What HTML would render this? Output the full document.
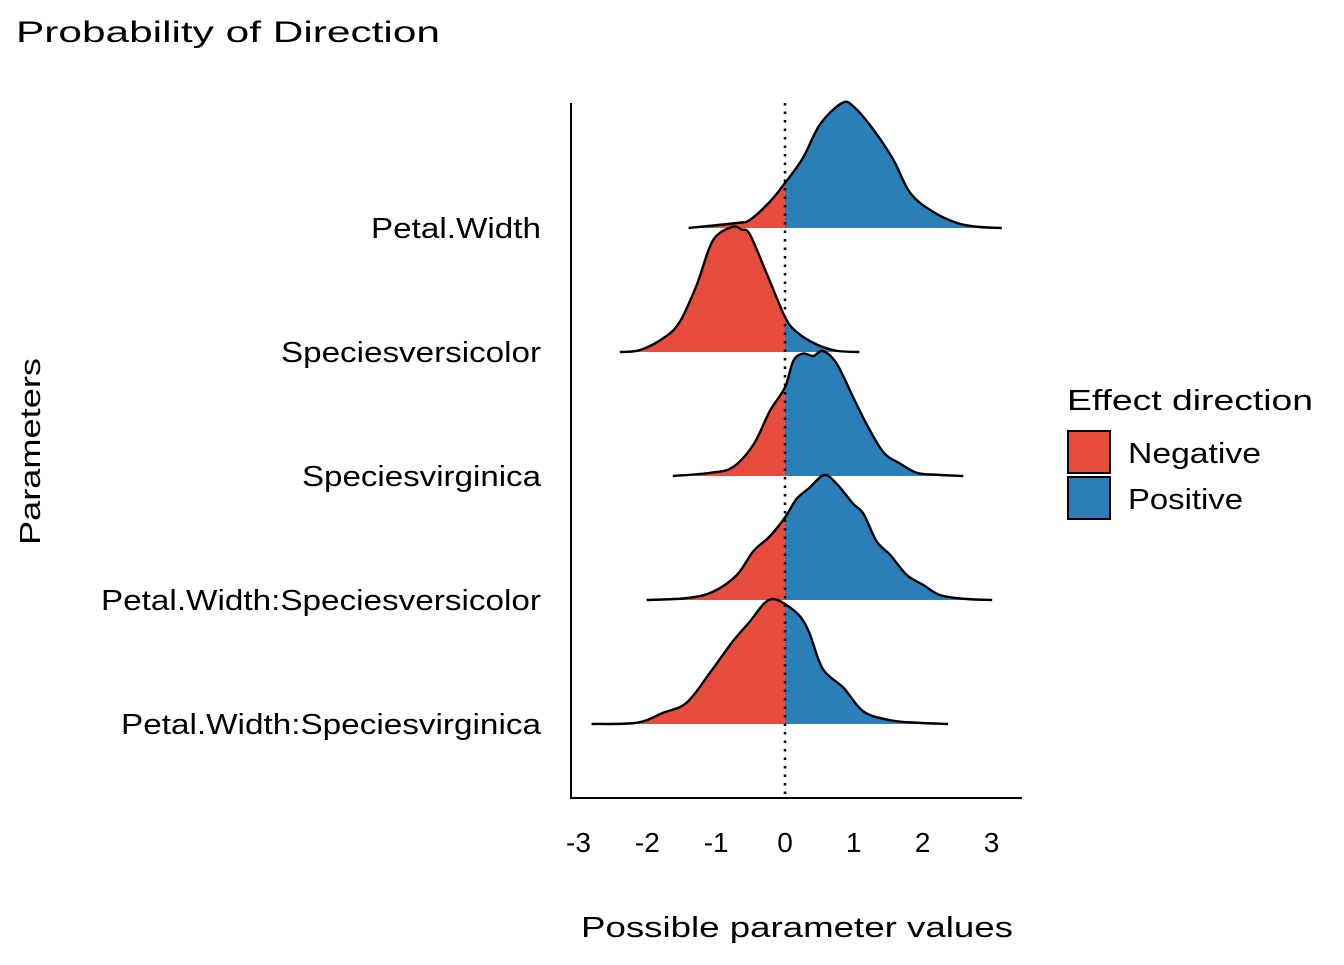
<!DOCTYPE html>
<html><head><meta charset="utf-8"><style>
body{margin:0;background:#fff}
svg text{font-family:"Liberation Sans",sans-serif;fill:#000}
</style></head><body>
<svg id="c" width="1344" height="960">
<defs>
<clipPath id="neg"><rect x="0" y="0" width="785" height="960"/></clipPath>
<clipPath id="pos"><rect x="785" y="0" width="600" height="960"/></clipPath>
</defs>
<text x="16" y="42" font-size="30" textLength="424" lengthAdjust="spacingAndGlyphs">Probability of Direction</text>
<g id="ridges"></g>
<g id="ylabels"></g>
<g id="xticks"></g>
<line x1="571" y1="103" x2="571" y2="798" stroke="#000" stroke-width="2"/>
<line x1="570" y1="798" x2="1022" y2="798" stroke="#000" stroke-width="2"/>
<text x="581" y="937" font-size="29" textLength="432" lengthAdjust="spacingAndGlyphs">Possible parameter values</text>
<text transform="translate(40,545) rotate(-90)" font-size="29" textLength="187" lengthAdjust="spacingAndGlyphs">Parameters</text>
<g>
<text x="1067" y="410" font-size="29" textLength="246" lengthAdjust="spacingAndGlyphs">Effect direction</text>
<rect x="1068" y="431" width="42" height="42" fill="#e64d3d" stroke="#000" stroke-width="2"/>
<text x="1128" y="463" font-size="29" textLength="133" lengthAdjust="spacingAndGlyphs">Negative</text>
<rect x="1068" y="477" width="42" height="42" fill="#2a7fb8" stroke="#000" stroke-width="2"/>
<text x="1128" y="509" font-size="29" textLength="115" lengthAdjust="spacingAndGlyphs">Positive</text>
</g>
</svg>
<script>
const params=["Petal.Width","Speciesversicolor","Speciesvirginica","Petal.Width:Speciesversicolor","Petal.Width:Speciesvirginica"];
const labelWidths=[170,260,239,440,420];
const xTicks=[-3,-2,-1,0,1,2,3];
const xPW=[-1.40,-0.70,-0.51,-0.22,0,0.26,0.51,0.83,1.0,1.28,1.57,1.82,2.15,2.50,2.79,3.15];
const dPW=[0,0.04,0.065,0.21,0.36,0.56,0.83,1.0,0.97,0.79,0.55,0.28,0.13,0.04,0.01,0];
const xSVe=[-2.40,-2.11,-1.77,-1.53,-1.28,-1.05,-0.77,-0.63,-0.51,-0.26,0,0.17,0.46,0.75,1.08];
const dSVe=[0,0.015,0.11,0.24,0.54,0.89,1.0,0.98,0.94,0.62,0.28,0.16,0.06,0.01,0];
const xSVi=[-1.63,-1.09,-0.76,-0.46,-0.22,0,0.12,0.26,0.41,0.55,0.75,0.99,1.19,1.43,1.67,1.92,2.21,2.59];
const dSVi=[0,0.025,0.07,0.25,0.52,0.71,0.92,0.98,0.96,1.0,0.9,0.63,0.41,0.19,0.1,0.025,0.01,0];
const xPWSVe=[-2.01,-1.43,-1.05,-0.70,-0.46,-0.22,0,0.17,0.36,0.57,0.75,0.99,1.14,1.33,1.53,1.77,2.01,2.25,2.59,3.01];
const dPWSVe=[0,0.015,0.065,0.2,0.39,0.51,0.66,0.81,0.9,1.0,0.93,0.77,0.69,0.47,0.36,0.2,0.12,0.04,0.01,0];
const xPWSVi=[-2.81,-2.15,-1.77,-1.43,-1.09,-0.76,-0.51,-0.31,-0.17,0,0.22,0.36,0.55,0.85,1.14,1.53,1.92,2.37];
const dPWSVi=[0,0.01,0.09,0.17,0.41,0.66,0.82,0.96,1.0,0.96,0.86,0.72,0.44,0.29,0.1,0.03,0.01,0];
const xs=[xPW,xSVe,xSVi,xPWSVe,xPWSVi], ds=[dPW,dSVe,dSVi,dPWSVe,dPWSVi];
const NS="http://www.w3.org/2000/svg";
const xS=v=>785+v*68.83;
const yBase=i=>228+i*124;
const hS=d=>d*125;
function smooth(p){let s="M"+p[0][0]+","+p[0][1];for(let i=0;i<p.length-1;i++){const a=p[i-1]||p[i],b=p[i],c=p[i+1],d=p[i+2]||c;s+=" C"+(b[0]+(c[0]-a[0])/6)+","+(b[1]+(c[1]-a[1])/6)+" "+(c[0]-(d[0]-b[0])/6)+","+(c[1]-(d[1]-b[1])/6)+" "+c[0]+","+c[1];}return s;}
const R=document.getElementById("ridges");
params.forEach((p,i)=>{
 const y0=yBase(i);
 const pts=xs[i].map((x,k)=>[xS(x),y0-hS(ds[i][k])]);
 const top=smooth(pts);
 const area=top+" L"+pts[pts.length-1][0]+","+y0+" L"+pts[0][0]+","+y0+" Z";
 const g=document.createElementNS(NS,"g");
 
 
 [["neg","#e64d3d"],["pos","#2a7fb8"]].forEach(([c,col])=>{
  const a=document.createElementNS(NS,"path");
  
  
  a.setAttribute("d",area);a.setAttribute("fill",col);a.setAttribute("clip-path","url(#"+c+")");g.appendChild(a);});
 const l=document.createElementNS(NS,"path");
 
 
 l.setAttribute("d",top);l.setAttribute("fill","none");l.setAttribute("stroke","#000");l.setAttribute("stroke-width","2.4");
 g.appendChild(l);R.appendChild(g);
 const t=document.createElementNS(NS,"text");
 
 
 t.setAttribute("x",541-labelWidths[i]);t.setAttribute("y",y0+10);t.setAttribute("font-size","29");
 t.setAttribute("textLength",labelWidths[i]);t.setAttribute("lengthAdjust","spacingAndGlyphs");t.textContent=p;
 document.getElementById("ylabels").appendChild(t);
});
const zl=document.createElementNS(NS,"line");


zl.setAttribute("x1",xS(0));zl.setAttribute("x2",xS(0));zl.setAttribute("y1",103);zl.setAttribute("y2",798);
zl.setAttribute("stroke","#000");zl.setAttribute("stroke-width","2.5");zl.setAttribute("stroke-dasharray","2.5,6");
R.appendChild(zl);
xTicks.forEach(v=>{
 const t=document.createElementNS(NS,"text");
 
 
 t.setAttribute("x",xS(v));t.setAttribute("y",852);t.setAttribute("text-anchor","middle");t.setAttribute("font-size","28");t.textContent=v;
 document.getElementById("xticks").appendChild(t);
});
</script>
</body></html>
